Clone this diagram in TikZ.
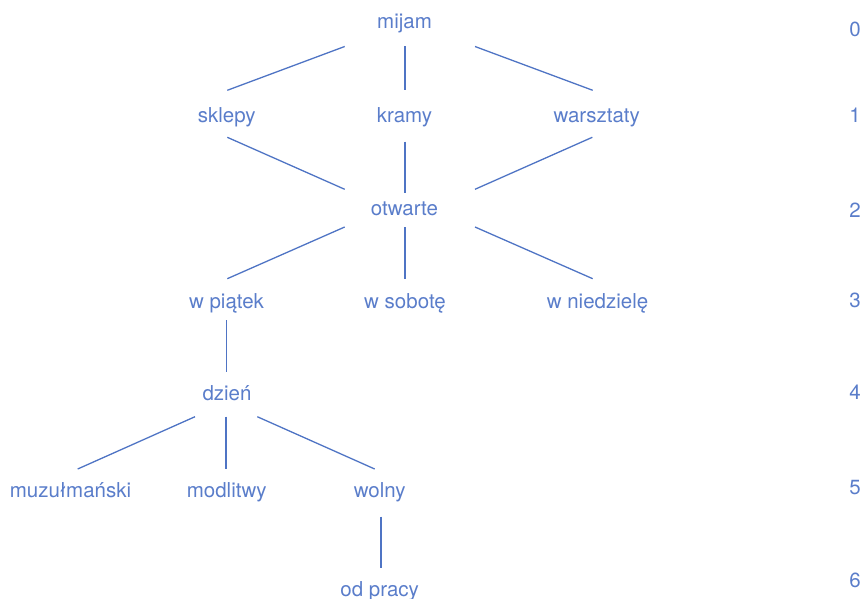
\documentclass[tikz,border=0pt]{standalone}
\usepackage{fontspec}
\setmainfont{TeX Gyre Heros}
\definecolor{treeblue}{HTML}{4F74C4}
\definecolor{labelblue}{HTML}{5A7DCA}
\begin{document}
\begin{tikzpicture}[x=1pt,y=-1pt,
  word/.style={anchor=base, inner sep=0pt, text=labelblue,
               font=\fontsize{20.5}{24}\selectfont},
  depth/.style={word},
  edge/.style={draw=treeblue, line width=1.3pt}]
\useasboundingbox (0,0) rectangle (864,599);

% words of the tree, placed on their baselines
\node[word] (mijam)     at (404.5, 29)   {mijam};
\node[word] (sklepy)    at (226.7,122.7) {sklepy};
\node[word] (kramy)     at (404.5,122.7) {kramy};
\node[word] (warsztaty) at (596.7,122.7) {warsztaty};
\node[word] (otwarte)   at (404.5,215.5) {otwarte};
\node[word] (piatek)    at (226.5,308)   {w piątek};
\node[word] (sobota)    at (405,  308)   {w sobotę};
\node[word] (niedziela) at (597.5,308)   {w niedzielę};
\node[word] (dzien)     at (227,  400)   {dzień};
\node[word] (muzulm)    at (70.5, 497)   {muzułmański};
\node[word] (modlitwy)  at (226.7,497)   {modlitwy};
\node[word] (wolny)     at (379.7,497)   {wolny};
\node[word] (odpracy)   at (379.7,596)   {od pracy};

% depth index on the right
\node[depth] (d0) at (855, 37) {0};
\node[depth] (d1) at (855,122) {1};
\node[depth] (d2) at (855,217) {2};
\node[depth] (d3) at (855,307) {3};
\node[depth] (d4) at (855,399) {4};
\node[depth] (d5) at (855,494) {5};
\node[depth] (d6) at (855,587) {6};

% branches
\draw[edge] ([shift={(-59.8,17.5)}]mijam.base) -- ([shift={(0.6,-32.4)}]sklepy.base);
\draw[edge] ([shift={(0.5,17.5)}]mijam.base)   -- ([shift={(0.5,-32.7)}]kramy.base);
\draw[edge] ([shift={(70.5,17.5)}]mijam.base)  -- ([shift={(-4,-32.4)}]warsztaty.base);

\draw[edge] ([shift={(0.6,14.6)}]sklepy.base)     -- ([shift={(-59.8,-26.2)}]otwarte.base);
\draw[edge] ([shift={(0.5,19)}]kramy.base)        -- ([shift={(0.5,-22.2)}]otwarte.base);
\draw[edge] ([shift={(-4.4,14.6)}]warsztaty.base) -- ([shift={(70.5,-26.2)}]otwarte.base);

\draw[edge] ([shift={(-59.8,11.5)}]otwarte.base) -- ([shift={(0.8,-29.3)}]piatek.base);
\draw[edge] ([shift={(0.5,11.5)}]otwarte.base)   -- ([shift={(0,-29)}]sobota.base);
\draw[edge] ([shift={(70.5,11.5)}]otwarte.base)  -- ([shift={(-4.8,-29.3)}]niedziela.base);

\draw[edge] ([shift={(0.2,12)}]piatek.base) -- ([shift={(-0.3,-28.3)}]dzien.base);

\draw[edge] ([shift={(-32,16.7)}]dzien.base)  -- ([shift={(7.2,-28)}]muzulm.base);
\draw[edge] ([shift={(-1,16.7)}]dzien.base)   -- ([shift={(-0.7,-28)}]modlitwy.base);
\draw[edge] ([shift={(30.3,16.7)}]dzien.base) -- ([shift={(-5,-28)}]wolny.base);

\draw[edge] ([shift={(1.3,19.7)}]wolny.base) -- ([shift={(1.3,-27.7)}]odpracy.base);
\end{tikzpicture}
\end{document}
